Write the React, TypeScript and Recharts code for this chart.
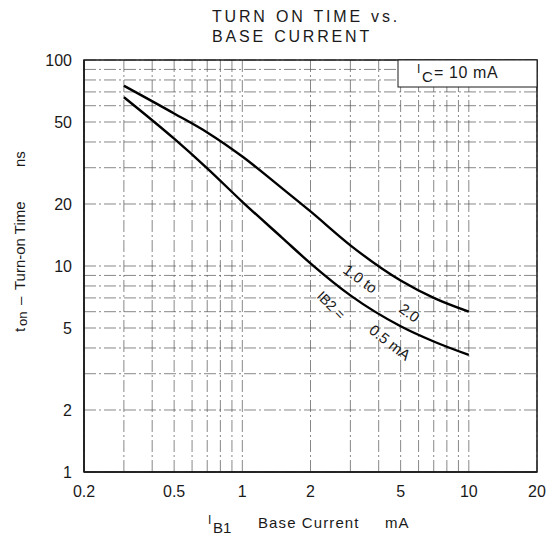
import {
  LineChart,
  Line,
  XAxis,
  YAxis,
  CartesianGrid,
  ReferenceArea,
} from "recharts";

// I_B1 base current (mA)
const baseCurrent = [0.3, 0.5, 0.7, 1, 1.5, 2, 3, 5, 7, 10];
// turn-on time (ns), I_B2 = 1.0 to 2.0 mA
const tonHigh = [75, 55, 44.5, 34, 23.8, 18.4, 12.6, 8.5, 7.0, 6.0];
// turn-on time (ns), I_B2 = 0.5 mA
const tonLow = [66, 41.5, 29.8, 20.5, 13.7, 10.3, 7.2, 5.1, 4.3, 3.7];

const xTicks = [0.2, 0.3, 0.4, 0.5, 0.6, 0.7, 0.8, 0.9, 1, 2, 3, 4, 5, 6, 7, 8, 9, 10, 20];
const xLabels = [0.2, 0.5, 1, 2, 5, 10, 20];
const yTicks = [1, 2, 3, 4, 5, 6, 7, 8, 9, 10, 20, 30, 40, 50, 60, 70, 80, 90, 100];
const yLabels = [1, 2, 5, 10, 20, 50, 100];

const data = baseCurrent.map((x, i) => ({ x, high: tonHigh[i], low: tonLow[i] }));

const font = '"Liberation Sans", Arial, sans-serif';
const ink = "#1a1a1a";

export default function App() {
  return (
    <div
      style={{
        position: "absolute",
        left: 0,
        top: 0,
        width: 556,
        height: 537,
        background: "#fff",
        fontFamily: font,
      }}
    >
      <LineChart
        width={556}
        height={537}
        data={data}
        margin={{ top: 60, right: 19, bottom: 35, left: 20 }}
      >
        <CartesianGrid
          stroke="#555"
          strokeWidth={0.7}
          strokeDasharray="12 3 2 3"
        />
        <XAxis
          dataKey="x"
          type="number"
          scale="log"
          domain={[0.2, 20]}
          ticks={xTicks}
          allowDataOverflow
          tickLine={false}
          axisLine={{ stroke: ink, strokeWidth: 1.5 }}
          height={30}
          tick={{ fill: ink, fontSize: 16, fontFamily: font }}
          tickFormatter={(v: number) => (xLabels.includes(v) ? String(v) : "")}
          tickMargin={8}
          interval={0}
        />
        <YAxis
          type="number"
          scale="log"
          domain={[1, 100]}
          ticks={yTicks}
          allowDataOverflow
          tickLine={false}
          axisLine={{ stroke: ink, strokeWidth: 1.5 }}
          width={64}
          tick={{ fill: ink, fontSize: 16, fontFamily: font }}
          tickFormatter={(v: number) => (yLabels.includes(v) ? String(v) : "")}
          tickMargin={6}
          interval={0}
        />
        <ReferenceArea
          x1={0.2}
          x2={20}
          y1={1}
          y2={100}
          fill="none"
          stroke={ink}
          strokeWidth={1.5}
          ifOverflow="visible"
        />
        <Line
          dataKey="high"
          type="monotone"
          stroke="#000"
          strokeWidth={2.4}
          dot={false}
          isAnimationActive={false}
        />
        <Line
          dataKey="low"
          type="monotone"
          stroke="#000"
          strokeWidth={2.4}
          dot={false}
          isAnimationActive={false}
        />
      </LineChart>

      <svg
        width={556}
        height={537}
        style={{ position: "absolute", left: 0, top: 0, pointerEvents: "none" }}
        fontFamily={font}
        fill={ink}
      >
        {/* title */}
        <text x={212} y={22} fontSize={16} letterSpacing={2.8} wordSpacing={1}>
          TURN ON TIME vs.
        </text>
        <text x={212} y={42} fontSize={16} letterSpacing={2.8} wordSpacing={1}>
          BASE CURRENT
        </text>

        {/* condition box */}
        <rect x={398} y={60} width={139} height={27} fill="#fff" stroke={ink} strokeWidth={1} />
        <text x={417} y={73} fontSize={12}>I</text>
        <text x={422} y={82} fontSize={15}>C</text>
        <text x={434} y={78} fontSize={16} letterSpacing={0.6}>= 10 mA</text>

        {/* curve labels */}
        <text x={342} y={272} fontSize={15} transform="rotate(36 342 272)">
          1.0 to
        </text>
        <text x={398} y={311} fontSize={15} transform="rotate(36 398 311)">
          2.0
        </text>
        <text x={316} y={297} fontSize={14} transform="rotate(45 316 297)">
          IB2 =
        </text>
        <text x={368} y={332} fontSize={15} transform="rotate(38 368 332)">
          0.5 mA
        </text>

        {/* y axis title */}
        <g transform="rotate(-90)" fontSize={15}>
          <text x={-332} y={25}>t</text>
          <text x={-326} y={27} fontSize={13}>on</text>
          <text x={-305} y={25}>–</text>
          <text x={-290} y={25}>Turn-on Time</text>
          <text x={-167} y={25}>ns</text>
        </g>

        {/* x axis title */}
        <text x={208} y={524} fontSize={12}>I</text>
        <text x={213} y={533} fontSize={15}>B1</text>
        <text x={258} y={528} fontSize={15} letterSpacing={1.1}>Base Current</text>
        <text x={385} y={528} fontSize={15} letterSpacing={1.1}>mA</text>
      </svg>
    </div>
  );
}
